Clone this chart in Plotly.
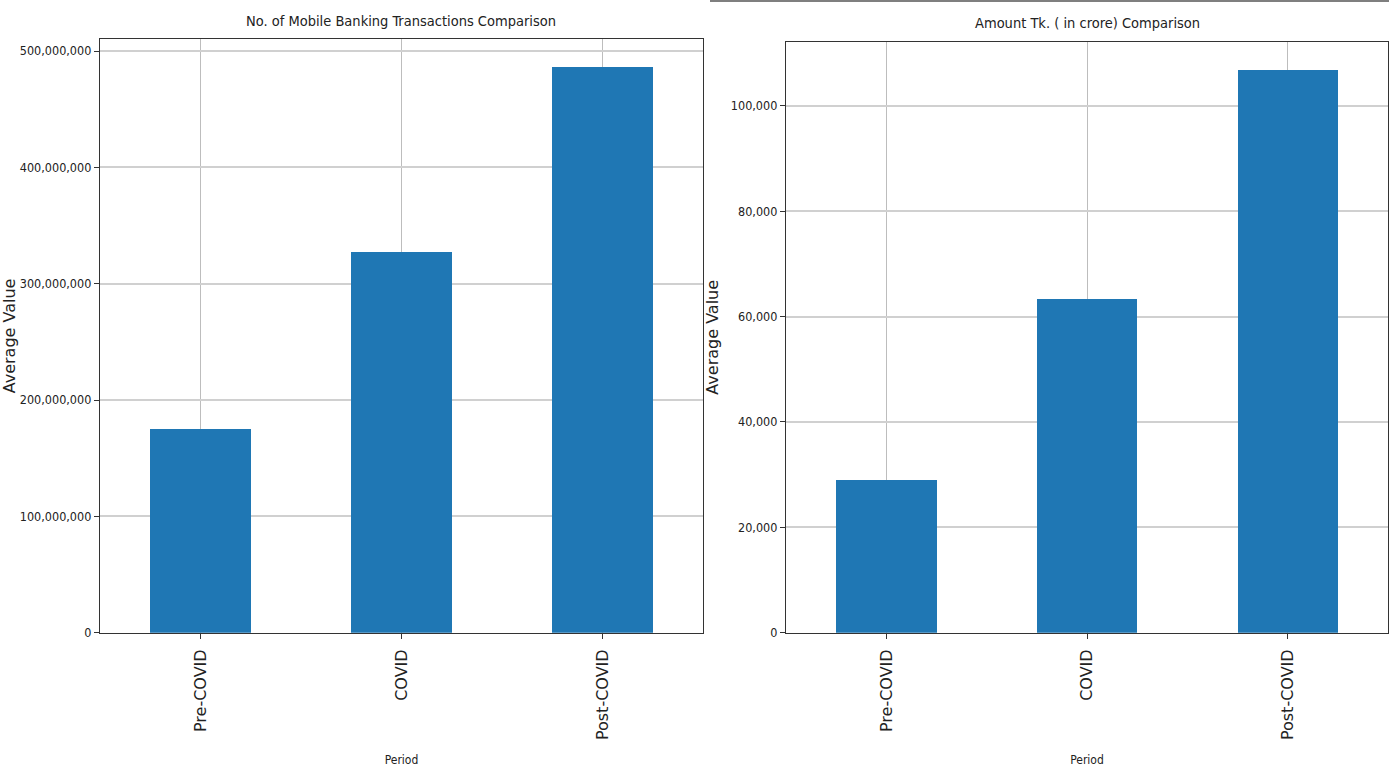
import plotly.graph_objects as go

periods = ["Pre-COVID", "COVID", "Post-COVID"]
transactions = [175_500_000, 327_000_000, 486_000_000]
amount_crore = [29_000, 63_300, 106_800]

left_title = "No. of Mobile Banking Transactions Comparison"
right_title = "Amount Tk. ( in crore) Comparison"
x_title = "Period"
y_title = "Average Value"

W, H = 1389, 777
REF_H = 769
BAR = "#1f77b4"
COND = "DejaVu Sans Condensed, DejaVu Sans, sans-serif"
REG = "DejaVu Sans, sans-serif"

fig = go.Figure()
fig.add_trace(go.Bar(x=periods, y=transactions, marker_color=BAR, marker_line_width=0,
                     width=0.5, xaxis="x", yaxis="y", showlegend=False))
fig.add_trace(go.Bar(x=periods, y=amount_crore, marker_color=BAR, marker_line_width=0,
                     width=0.5, xaxis="x2", yaxis="y2", showlegend=False))

def px(v):
    return v / W

def py(v):
    return 1 - v / REF_H

common_x = dict(
    type="category", range=[-0.5, 2.5], tickangle=-90,
    showline=True, linecolor="#333", linewidth=1.3, mirror=True,
    ticks="outside", ticklen=5, tickcolor="#333",
    showgrid=True, gridcolor="#bdbdbd", gridwidth=1,
    tickfont=dict(family=REG, size=16, color="#222"),
    ticklabelstandoff=4,
    layer="above traces",
    title=dict(text=x_title, font=dict(family=COND, size=12, color="#222"), standoff=16),
)
common_y = dict(
    showline=True, linecolor="#333", linewidth=1.3, mirror=True,
    ticks="outside", ticklen=5, tickcolor="#333",
    showgrid=True, gridcolor="#d0d0d0", gridwidth=1.6,
    tickformat=",d", zeroline=False,
    tickfont=dict(family=COND, size=12.5, color="#222"),
    layer="above traces",
)

ymax1 = max(transactions) * 1.05
ymax2 = max(amount_crore) * 1.05

fig.update_layout(
    width=W, height=H, autosize=False,
    margin=dict(l=0, r=0, t=0, b=0),
    paper_bgcolor="white", plot_bgcolor="white",
    bargap=0,
    xaxis=dict(common_x, domain=[px(100), px(703)], anchor="y"),
    yaxis=dict(common_y, domain=[py(632), py(39)], anchor="x", range=[0, ymax1], dtick=100_000_000,
               title=dict(text=y_title, font=dict(family=REG, size=16, color="#222"), standoff=8)),
    xaxis2=dict(common_x, domain=[px(786), px(1388)], anchor="y2"),
    yaxis2=dict(common_y, domain=[py(632), py(41.7)], anchor="x2", range=[0, ymax2], dtick=20_000,
                title=dict(text=y_title, font=dict(family=REG, size=16, color="#222"), standoff=8)),
    annotations=[
        dict(text=left_title, x=px(401), y=py(21), xref="paper", yref="paper",
             xanchor="center", yanchor="middle", showarrow=False,
             font=dict(family=COND, size=14.5, color="#222")),
        dict(text=right_title, x=px(1087), y=py(23), xref="paper", yref="paper",
             xanchor="center", yanchor="middle", showarrow=False,
             font=dict(family=COND, size=14.5, color="#222")),
    ],
    shapes=[
        dict(type="line", xref="paper", yref="paper", x0=px(710), x1=1, y0=py(1), y1=py(1),
             line=dict(color="#555", width=1.5)),
    ],
)

fig.write_html(
    "out.html",
    config={"responsive": False, "displayModeBar": False},
    post_script="document.body.style.margin='0px';document.body.style.overflow='hidden';",
)
